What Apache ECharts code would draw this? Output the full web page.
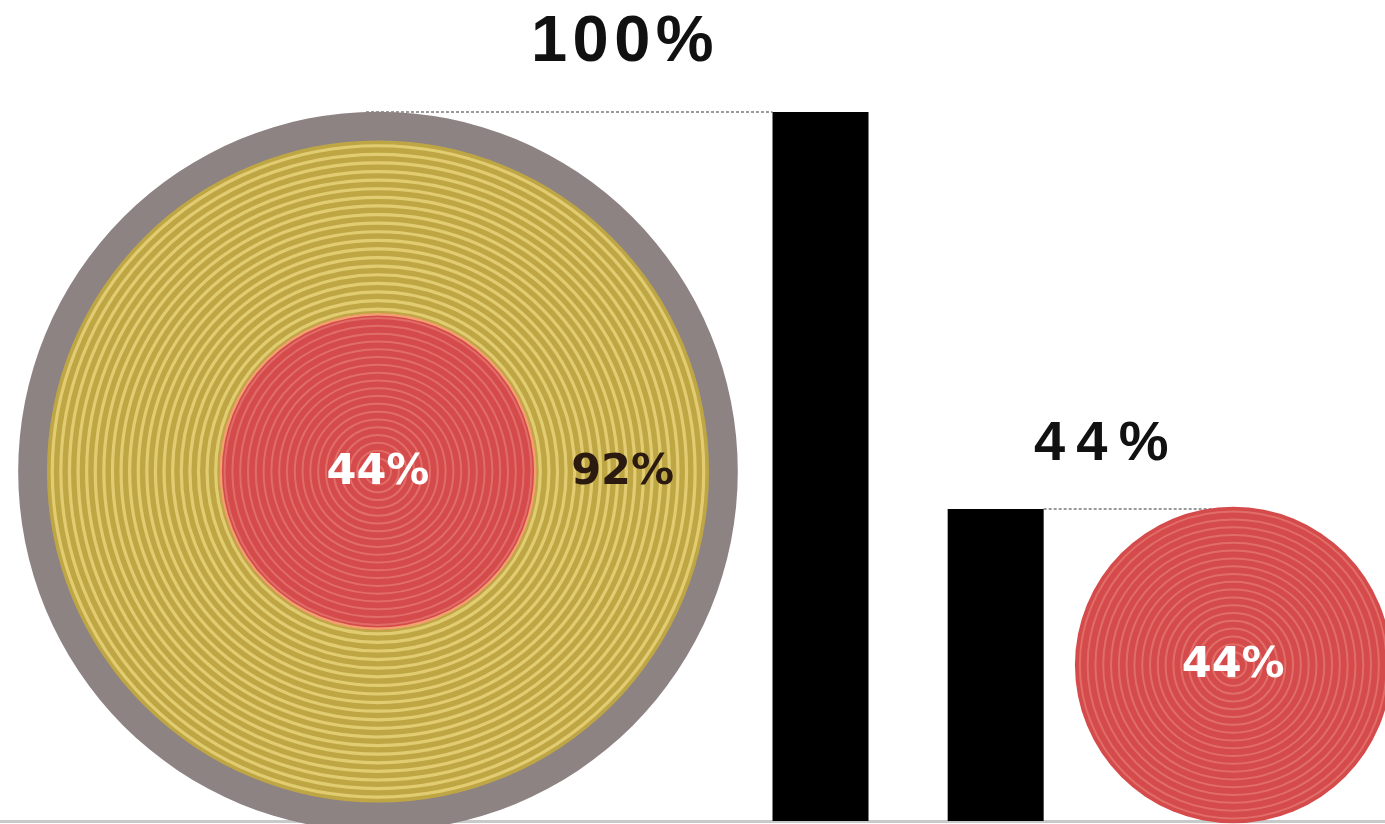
<!DOCTYPE html>
<html>
<head>
<meta charset="utf-8">
<script src="https://cdn.jsdelivr.net/npm/echarts@6/dist/echarts.min.js"></script>
<style>
  html, body { margin: 0; padding: 0; background: #ffffff; }
  #chart { width: 1385px; height: 824px; }
</style>
</head>
<body>
<div id="chart"></div>
<script>
// ---- data ----
const categories = ['Total', 'Subset'];
const barValues = [100, 44];
const topLabels = ['100%', '44%'];
const bigDiscValues = [100, 92, 44];
const bigDiscLabels = ['', '92%', '44%'];
const smallDiscValues = [44];
const smallDiscLabels = ['44%'];

// ---- layout (axis units) ----
const layout = {
  xMax: 195.3,
  bigCx: 53.3, bigCy: 49.3,
  smallCx: 173.9, smallCy: 22.0,
  barX: [115.7, 140.4]
};
const radiusScale = 1.015;

const discStyles = [
  { fill: '#8e8383', stripe: null },
  { fill: '#bfa644', stripe: '#e4d077', stripeStep: 8.6, stripeWidth: 3.2 },
  { fill: '#d54b4b', stripe: '#e2716b', stripeStep: 7.8, stripeWidth: 2.0, border: '#f2a06e' },
  { fill: '#d54b4b', stripe: '#e2716b', stripeStep: 7.8, stripeWidth: 2.0, border: null }
];

const chart = echarts.init(document.getElementById('chart'));

function discData(values, labels, cx, cy, styleOffset) {
  return values.map((v, i) => [cx, cy, v, i + styleOffset, labels[i], i < values.length - 1 ? values[i + 1] : 0]);
}

const discItems = discData(bigDiscValues, bigDiscLabels, layout.bigCx, layout.bigCy, 0)
  .concat(discData(smallDiscValues, smallDiscLabels, layout.smallCx, layout.smallCy, 3));

function renderDisc(params, api) {
  const c = api.coord([api.value(0), api.value(1)]);
  const r = api.size([0, api.value(2)])[1] / 2 * radiusScale;
  const innerR = api.size([0, api.value(5)])[1] / 2 * radiusScale;
  const st = discStyles[api.value(3)];
  const label = discItems[params.dataIndex][4];
  const children = [{
    type: 'circle', shape: { cx: c[0], cy: c[1], r: r },
    style: { fill: st.fill }
  }];
  if (st.stripe) {
    for (let rr = r - st.stripeStep / 2 - 1; rr > 2; rr -= st.stripeStep) {
      children.push({
        type: 'circle', shape: { cx: c[0], cy: c[1], r: rr },
        style: { fill: 'none', stroke: st.stripe, lineWidth: st.stripeWidth, opacity: 0.9 }
      });
    }
  }
  if (st.border) {
    children.push({
      type: 'circle', shape: { cx: c[0], cy: c[1], r: r - 1 },
      style: { fill: 'none', stroke: st.border, lineWidth: 2.5 }
    });
  }
  if (label) {
    const isRing = api.value(5) > 0;
    const lx = isRing ? c[0] + (r + innerR) / 2 : c[0];
    children.push({
      type: 'text',
      style: {
        text: label, x: lx, y: c[1] + 1,
        fill: isRing ? '#2a1a10' : '#ffffff',
        font: 'bold 43px "DejaVu Sans"',
        align: 'center', verticalAlign: 'middle',
        textAlign: 'center', textVerticalAlign: 'middle'
      }
    });
  }
  return { type: 'group', children: children };
}

const guideTargets = [layout.bigCx, layout.smallCx];

function renderBar(params, api) {
  const xv = api.value(0), yv = api.value(1);
  const top = api.coord([xv, yv]);
  const base = api.coord([xv, 0]);
  const w = 96;
  const left = top[0] - w / 2;
  const right = top[0] + w / 2;
  const g = api.coord([guideTargets[params.dataIndex], yv]);
  const gx1 = g[0] < left ? g[0] - 12 : right;
  const gx2 = g[0] < left ? left : g[0] + 14;
  return {
    type: 'group',
    children: [
      { type: 'line', shape: { x1: gx1, y1: top[1], x2: gx2, y2: top[1] },
        style: { stroke: '#7a7a7a', lineWidth: 1.5, lineDash: [3, 2] }, z2: 1 },
      { type: 'rect', shape: { x: left, y: top[1], width: w, height: base[1] - top[1] },
        style: { fill: '#000000' }, z2: 2 }
    ]
  };
}

const option = {
  backgroundColor: '#ffffff',
  animation: false,
  grid: { left: 0, right: 0, top: 112, bottom: 3 },
  xAxis: {
    type: 'value', min: 0, max: layout.xMax,
    axisLine: { show: true, lineStyle: { color: '#c9c9c9', width: 3 } },
    axisTick: { show: false }, axisLabel: { show: false }, splitLine: { show: false }
  },
  yAxis: {
    type: 'value', min: 0, max: 100, show: false, splitLine: { show: false }
  },
  series: [
    {
      type: 'custom', name: 'bars',
      renderItem: renderBar,
      data: barValues.map((v, i) => [layout.barX[i], v, categories[i]]),
      z: 3
    },
    {
      type: 'custom', name: 'discs',
      renderItem: renderDisc,
      data: discItems.map(d => [d[0], d[1], d[2], d[3], 0, d[5]]),
      z: 4
    }
  ],
  graphic: [
    { type: 'text', left: 531, top: 11,
      style: { text: topLabels[0].split('').join('\u200A'), fill: '#111111',
        font: 'bold 65px "Liberation Sans"' } },
    { type: 'text', left: 1034, top: 417,
      style: { text: topLabels[1].split('').join('\u2009'), fill: '#111111',
        font: 'bold 56px "Liberation Sans"' } }
  ]
};
chart.setOption(option);
</script>
</body>
</html>
